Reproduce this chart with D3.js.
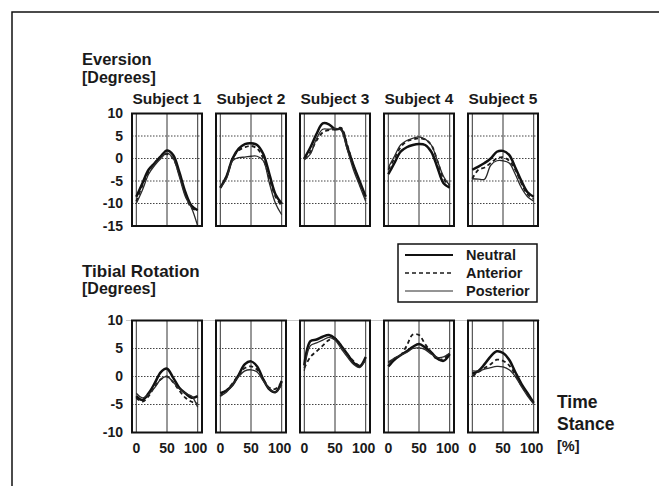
<!DOCTYPE html>
<html lang="en">
<head>
<meta charset="UTF-8">
<title>Eversion and Tibial Rotation</title>
<script src="https://d3js.org/d3.v7.min.js"></script>
<style>
  body { margin: 0; background: white; }
  svg text { font-family: "Liberation Sans", Arial, sans-serif; font-weight: bold; fill: #1a1a1a; }
</style>
</head>
<body>
<div id="chart"></div>
<script>
// stance time points (%)
const time = [0, 10, 20, 30, 40, 50, 60, 70, 80, 90, 100];
const subjects = ["Subject 1", "Subject 2", "Subject 3", "Subject 4", "Subject 5"];
const conditions = ["Neutral", "Anterior", "Posterior"];
const xTicks = [0, 50, 100];
const eversionTicks = [10, 5, 0, -5, -10, -15];
const rotationTicks = [10, 5, 0, -5, -10];

// Eversion (degrees), one row per subject
const eversionNeutral = [
  [-8.5, -5.5, -2.5, -1, 0.5, 1.8, 0.8, -3, -7.5, -10.5, -11.5],
  [-6.5, -4, 0, 2.2, 3.2, 3.4, 3, 1, -3.5, -8, -10],
  [0, 2.5, 5.5, 7.8, 7.6, 6.5, 6.5, 2.5, -1.5, -5, -8.5],
  [-3.5, -1, 1.5, 2.5, 3, 3.2, 3, 1.5, -2, -5.5, -6.5],
  [-2.5, -1.8, -1, 0, 1.5, 1.7, 0.8, -2, -5, -7.5, -8.5]
];
const eversionAnterior = [
  [-9.5, -6, -3, -1, 0.5, 1, 0, -3.5, -8, -11, -11.5],
  [-6.5, -4, 0, 1.8, 2.5, 2.8, 2.2, 0, -4.5, -8.5, -10.5],
  [0, 1.5, 4, 5.8, 6.3, 6.5, 6.8, 3, -1.5, -5.5, -9],
  [-2.5, 0, 2.5, 3.8, 4.2, 4.5, 4.2, 3, -0.5, -4.5, -6],
  [-4.5, -2.5, -2, -1, 0, 0.3, -0.5, -2.5, -5.5, -8, -9]
];
const eversionPosterior = [
  [-10, -7, -3.5, -1.5, 0, 1.2, 0, -4, -8.5, -11, -15],
  [-6.5, -4.5, -0.5, 0.2, 0.3, 0.5, 0.5, -0.5, -5.5, -10, -12.5],
  [-0.3, 1, 4.5, 6.5, 6.5, 6.7, 6.3, 2, -2.5, -6, -9.5],
  [-2, 0.5, 3, 4, 4.5, 4.8, 4.3, 3, -0.5, -4, -6],
  [-4.5, -4.6, -4.6, -1.5, -0.5, -0.5, -1, -3.5, -6.5, -8.5, -9.5]
];

// Tibial rotation (degrees), one row per subject
const rotationNeutral = [
  [-3.5, -4.2, -3, -1.2, 0.8, 1.4, -0.2, -2, -3, -3.8, -3.5],
  [-3, -2.5, -1.5, 0.3, 2.2, 2.7, 1.8, -0.5, -2.3, -2.8, -0.8],
  [2, 6.3, 6.6, 7.1, 7.4, 6.8, 5.5, 4, 2.5, 1.8, 3.5],
  [1.8, 3, 3.8, 4.5, 5.3, 5.8, 5.2, 4.3, 3.2, 2.8, 4],
  [0.5, 1, 2.2, 3.6, 4.5, 4.2, 3, 0.8, -1.3, -3, -4.7]
];
const rotationAnterior = [
  [-3.8, -4.5, -3.5, -1.8, -0.5, 0, -1, -2.5, -3.8, -4.5, -4.8],
  [-3.5, -2.5, -1.2, 0.3, 1.5, 1.8, 1.2, -0.5, -2, -2.2, -1],
  [1.5, 3.5, 4.5, 5.5, 6.5, 6.8, 5.5, 4, 2.8, 2, 3],
  [2.5, 3.2, 3.8, 5.5, 7.5, 7.4, 5.8, 4.3, 3, 3.2, 4.3],
  [0, 0.8, 1.5, 2.2, 3, 2.8, 2, 0.3, -1.6, -3.2, -4.8]
];
const rotationPosterior = [
  [-3, -3.8, -3.2, -2, -0.5, 0, -1, -2.2, -3, -3.5, -5.5],
  [-3.5, -2.8, -1.5, 0, 1, 1.2, 0.8, -0.8, -2.2, -2.8, -1.5],
  [1, 5.5, 6, 6.5, 7, 6.5, 5, 3.5, 2.2, 1.6, 3],
  [2.5, 3.3, 3.8, 4.3, 5, 5.1, 4.8, 4, 3.4, 3.5, 4.2],
  [1, 1, 1.3, 1.6, 1.8, 1.7, 1.2, 0, -1.8, -3.5, -4.9]
];

const width = 659, height = 486;
const svg = d3.select("#chart").append("svg")
  .attr("width", width).attr("height", height);

// partial frame (top and left edges)
svg.append("path")
  .attr("d", "M12,486 L12,12 L659,12")
  .attr("fill", "none").attr("stroke", "#111").attr("stroke-width", 1.5);

const styles = {
  Neutral:   { width: 2.5, dash: null,  color: "#111" },
  Anterior:  { width: 1.8, dash: "4,3", color: "#1a1a1a" },
  Posterior: { width: 1.3, dash: null,  color: "#2a2a2a" }
};

const panelX = d3.scaleBand().domain(subjects).range([132, 538]).paddingInner(1 / 6);
const x = d3.scaleLinear().domain([-7, 107]).range([0, panelX.bandwidth()]);

function drawRow(cfg) {
  const y = d3.scaleLinear().domain(cfg.domain).range([cfg.bottom, cfg.top]);
  const g = svg.append("g");

  if (cfg.topRule) {
    g.append("line")
      .attr("x1", 126).attr("x2", 540)
      .attr("y1", y(cfg.domain[1])).attr("y2", y(cfg.domain[1]))
      .attr("stroke", "#c8c8c8").attr("stroke-width", 1);
  }

  // y tick labels
  g.selectAll(".ytick").data(cfg.ticks).enter().append("text")
    .attr("x", 123).attr("y", d => y(d)).attr("dy", "0.35em")
    .attr("text-anchor", "end").style("font-size", "14px")
    .text(d => d);

  subjects.forEach((s, i) => {
    const p = g.append("g").attr("transform", `translate(${panelX(s)},0)`);
    const w = panelX.bandwidth();

    // dotted horizontal grid
    p.selectAll(".hg").data(cfg.ticks.slice(1, -1)).enter().append("line")
      .attr("x1", 0).attr("x2", w)
      .attr("y1", d => y(d)).attr("y2", d => y(d))
      .attr("stroke", "#444").attr("stroke-width", 1).attr("stroke-dasharray", "1.5,1.5");

    // vertical grid
    p.selectAll(".vg").data(xTicks).enter().append("line")
      .attr("x1", d => x(d)).attr("x2", d => x(d))
      .attr("y1", cfg.top).attr("y2", cfg.bottom)
      .attr("stroke", "#333").attr("stroke-width", 1);

    conditions.forEach(c => {
      const vals = cfg.series[c][i];
      const line = d3.line()
        .x((d, k) => x(time[k]))
        .y(d => y(d))
        .curve(d3.curveCatmullRom.alpha(0.5));
      p.append("path")
        .attr("d", line(vals))
        .attr("fill", "none")
        .attr("stroke", styles[c].color)
        .attr("stroke-width", styles[c].width)
        .attr("stroke-dasharray", styles[c].dash)
        .attr("stroke-linejoin", "round");
    });

    p.append("rect")
      .attr("x", 0).attr("y", cfg.top)
      .attr("width", w).attr("height", cfg.bottom - cfg.top)
      .attr("fill", "none").attr("stroke", "#111").attr("stroke-width", 2);

    if (cfg.subjectLabels) {
      p.append("text").attr("x", w / 2).attr("y", cfg.top - 10)
        .attr("text-anchor", "middle").style("font-size", "15.5px").text(s);
    }
    if (cfg.xLabels) {
      p.selectAll(".xt").data(xTicks).enter().append("text")
        .attr("x", d => x(d) + (d === 100 ? -2 : 0)).attr("y", cfg.bottom + 20)
        .attr("text-anchor", "middle").style("font-size", "14px")
        .text(d => d);
    }
  });
}

drawRow({
  domain: [-15, 10], top: 113.5, bottom: 226, ticks: eversionTicks,
  series: { Neutral: eversionNeutral, Anterior: eversionAnterior, Posterior: eversionPosterior },
  subjectLabels: true, xLabels: false, topRule: false
});
drawRow({
  domain: [-10, 10], top: 320.5, bottom: 432.5, ticks: rotationTicks,
  series: { Neutral: rotationNeutral, Anterior: rotationAnterior, Posterior: rotationPosterior },
  subjectLabels: false, xLabels: true, topRule: true
});

// row titles
svg.append("text").attr("x", 82).attr("y", 65).style("font-size", "16.5px").text("Eversion");
svg.append("text").attr("x", 82).attr("y", 83).style("font-size", "16px").text("[Degrees]");
svg.append("text").attr("x", 82).attr("y", 277).style("font-size", "17px").text("Tibial Rotation");
svg.append("text").attr("x", 82).attr("y", 294).style("font-size", "16px").text("[Degrees]");

// x axis title
svg.append("text").attr("x", 557).attr("y", 408).style("font-size", "17.5px").text("Time");
svg.append("text").attr("x", 557).attr("y", 430).style("font-size", "17.5px").text("Stance");
svg.append("text").attr("x", 557).attr("y", 451).style("font-size", "14.5px").text("[%]");

// legend
const legend = svg.append("g");
legend.append("rect")
  .attr("x", 398).attr("y", 244).attr("width", 139).attr("height", 58)
  .attr("fill", "white").attr("stroke", "#111").attr("stroke-width", 1.5);
const legendY = d3.scalePoint().domain(conditions).range([255, 291]);
conditions.forEach(c => {
  legend.append("line")
    .attr("x1", 405).attr("x2", 453)
    .attr("y1", legendY(c)).attr("y2", legendY(c))
    .attr("stroke", styles[c].color)
    .attr("stroke-width", c === "Posterior" ? 1 : (c === "Neutral" ? 1.8 : 1.4))
    .attr("stroke-dasharray", styles[c].dash);
  legend.append("text")
    .attr("x", 466).attr("y", legendY(c)).attr("dy", "0.35em")
    .style("font-size", "14.5px").text(c);
});
</script>
</body>
</html>
